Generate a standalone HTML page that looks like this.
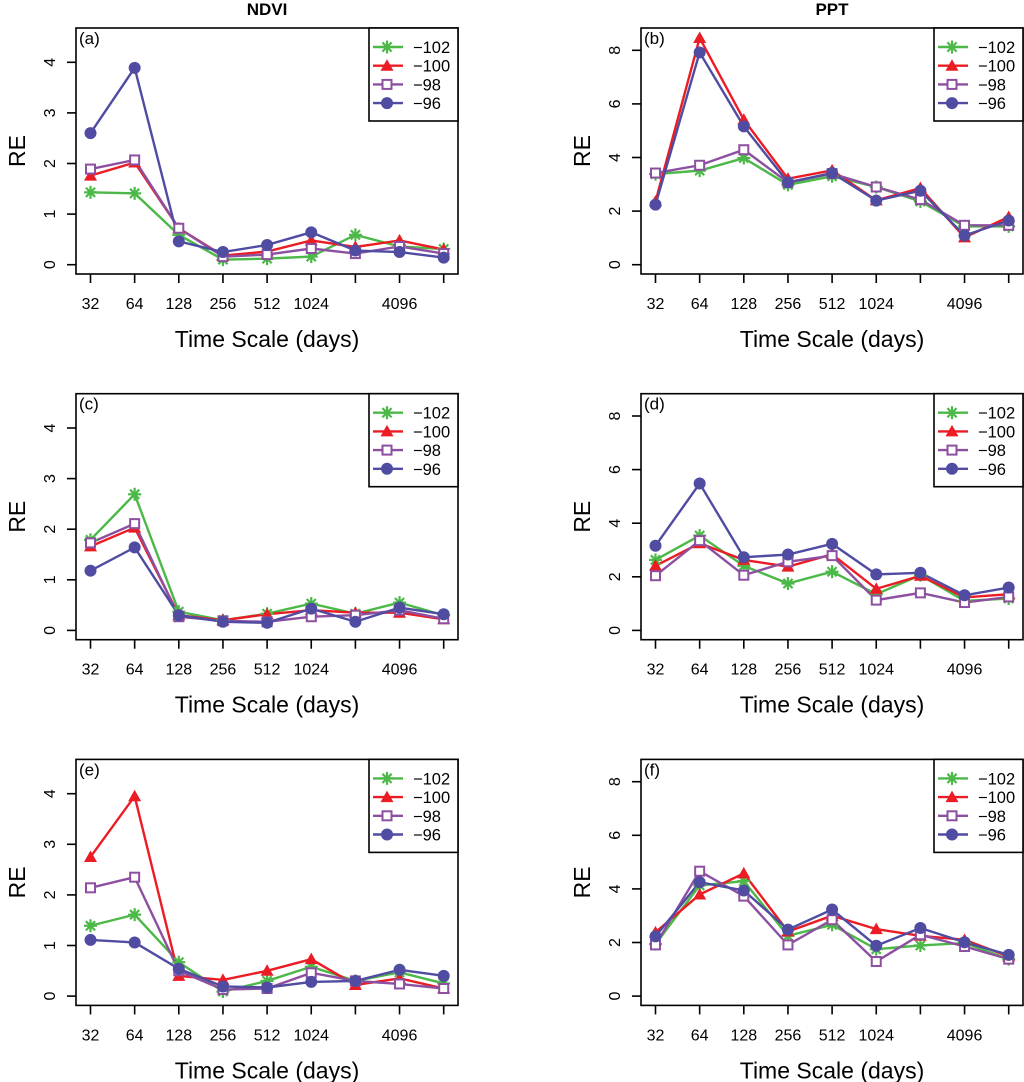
<!DOCTYPE html>
<html><head><meta charset="utf-8"><style>
html,body{margin:0;padding:0;background:#fff;}
svg{display:block;font-family:"Liberation Sans",sans-serif;}
</style></head><body>
<svg id="fig" width="1024" height="1082" viewBox="0 0 1024 1082"></svg>
<script>
const xLabels = ["32","64","128","256","512","1024","","4096",""];
const seriesNames = ["\u2212102","\u2212100","\u221298","\u221296"];
const ndviTicks = [0,1,2,3,4];
const pptTicks = [0,2,4,6,8];
// panel (a) NDVI
const aGreen = [1.43,1.41,0.59,0.10,0.12,0.16,0.59,0.36,0.31];
const aRed = [1.76,2.02,0.72,0.18,0.26,0.48,0.35,0.48,0.30];
const aPurple = [1.89,2.07,0.72,0.16,0.20,0.32,0.22,0.36,0.22];
const aBlue = [2.60,3.89,0.46,0.25,0.39,0.64,0.28,0.25,0.14];
// panel (b) PPT
const bGreen = [3.38,3.51,3.98,2.98,3.30,2.90,2.36,1.43,1.43];
const bRed = [2.36,8.46,5.41,3.21,3.52,2.40,2.86,1.02,1.78];
const bPurple = [3.42,3.71,4.29,3.07,3.40,2.90,2.43,1.47,1.47];
const bBlue = [2.24,7.92,5.16,3.07,3.42,2.39,2.76,1.09,1.65];
// panel (c) NDVI
const cGreen = [1.79,2.69,0.37,0.20,0.33,0.53,0.33,0.55,0.30];
const cRed = [1.66,2.03,0.30,0.20,0.32,0.40,0.35,0.35,0.22];
const cPurple = [1.73,2.11,0.27,0.19,0.17,0.27,0.30,0.40,0.23];
const cBlue = [1.18,1.64,0.30,0.17,0.15,0.43,0.17,0.45,0.32];
// panel (d) PPT
const dGreen = [2.63,3.54,2.41,1.75,2.19,1.35,2.06,1.10,1.19];
const dRed = [2.41,3.25,2.63,2.38,2.84,1.55,2.04,1.23,1.35];
const dPurple = [2.04,3.35,2.06,2.56,2.79,1.13,1.40,1.04,1.25];
const dBlue = [3.16,5.48,2.73,2.83,3.23,2.09,2.15,1.31,1.60];
// panel (e) NDVI
const eGreen = [1.39,1.61,0.67,0.09,0.30,0.58,0.30,0.47,0.25];
const eRed = [2.75,3.95,0.40,0.32,0.50,0.73,0.22,0.35,0.15];
const ePurple = [2.14,2.35,0.50,0.13,0.15,0.46,0.30,0.24,0.15];
const eBlue = [1.11,1.06,0.54,0.19,0.17,0.28,0.30,0.52,0.40];
// panel (f) PPT
const fGreen = [1.94,4.13,4.29,2.25,2.66,1.75,1.89,1.98,1.38];
const fRed = [2.38,3.79,4.58,2.41,3.00,2.50,2.25,2.10,1.48];
const fPurple = [1.91,4.66,3.73,1.91,2.85,1.29,2.29,1.85,1.38];
const fBlue = [2.23,4.25,3.94,2.48,3.23,1.88,2.54,2.01,1.54];

const colors = ["#4cb848","#ec1c24","#8d4fa0","#4f4ca2"];
const NS = "http://www.w3.org/2000/svg";
const svg = document.getElementById("fig");
function mk(tag, attrs, parent, txt){
  const e = document.createElementNS(NS, tag);
  for (const k in attrs) e.setAttribute(k, attrs[k]);
  if (txt !== undefined) e.textContent = txt;
  (parent||svg).appendChild(e);
  return e;
}
const panels = [
  {id:"a", col:0, row:0, kind:"ndvi", data:[aGreen,aRed,aPurple,aBlue]},
  {id:"b", col:1, row:0, kind:"ppt", data:[bGreen,bRed,bPurple,bBlue]},
  {id:"c", col:0, row:1, kind:"ndvi", data:[cGreen,cRed,cPurple,cBlue]},
  {id:"d", col:1, row:1, kind:"ppt", data:[dGreen,dRed,dPurple,dBlue]},
  {id:"e", col:0, row:2, kind:"ndvi", data:[eGreen,eRed,ePurple,eBlue]},
  {id:"f", col:1, row:2, kind:"ppt", data:[fGreen,fRed,fPurple,fBlue]}
];
function marker(g, type, x, y, col){
  let m;
  if (type===0){
    m = mk("g",{},g);
    for (let a=0;a<4;a++){
      const ang=a*Math.PI/4, r=6.5;
      mk("line",{x1:x-r*Math.cos(ang),y1:y-r*Math.sin(ang),x2:x+r*Math.cos(ang),y2:y+r*Math.sin(ang),stroke:col,"stroke-width":2.2},m);
    }
  } else if (type===1){
    m = mk("polygon",{points:`${x},${y-6.5} ${x-6.5},${y+5} ${x+6.5},${y+5}`,fill:col},g);
  } else if (type===2){
    m = mk("rect",{x:x-4.5,y:y-4.5,width:9,height:9,fill:"#fff",stroke:col,"stroke-width":2},g);
  } else {
    m = mk("circle",{cx:x,cy:y,r:6,fill:col},g);
  }
  return m;
}
panels.forEach(p=>{
  const ox = p.col ? 565 : 0, oy = p.row*365.7;
  const L=76+ox, R=p.col?1023:458, T=28+oy, B=274+oy;
  const x0=90.5+ox, dx=44.15;
  const y0=264.7+oy, k = p.kind==="ndvi"?50.6:26.8;
  const xs = i => x0 + i*dx;
  const ys = v => y0 - v*k;
  const g = mk("g",{});
  
  
  if (p.row===0){
    const t = mk("text",{x:(L+R)/2,y:15,"text-anchor":"middle","font-size":17,"font-weight":"bold"},g,p.kind==="ndvi"?"NDVI":"PPT");
    
    
  }
  p.data.forEach((arr,si)=>{
    const pts = arr.map((v,i)=>xs(i)+","+ys(v)).join(" ");
    const pl = mk("polyline",{points:pts,fill:"none",stroke:colors[si],"stroke-width":2.4},g);
    
    
  });
  p.data.forEach((arr,si)=>{
    arr.forEach((v,i)=>{
      const m = marker(g, si, xs(i), ys(v), colors[si]);
      
      
    });
  });
  const box = mk("rect",{x:L,y:T,width:R-L,height:B-T,fill:"none",stroke:"#000","stroke-width":1.6},g);
  
  
  xLabels.forEach((lab,i)=>{
    mk("line",{x1:xs(i),y1:B,x2:xs(i),y2:B+9,stroke:"#000","stroke-width":1.6},g);
    if (lab){
      const t = mk("text",{x:xs(i),y:B+35,"text-anchor":"middle","font-size":16},g,lab);
      
      
    }
  });
  const xt = mk("text",{x:(L+R)/2,y:B+73,"text-anchor":"middle","font-size":23},g,"Time Scale (days)");
  
  
  const ticks = p.kind==="ndvi"?ndviTicks:pptTicks;
  ticks.forEach(v=>{
    mk("line",{x1:L,y1:ys(v),x2:L-9,y2:ys(v),stroke:"#000","stroke-width":1.6},g);
    const t = mk("text",{x:L-21,y:ys(v),"text-anchor":"middle","font-size":16,transform:`rotate(-90 ${L-21} ${ys(v)})`},g,String(v));
    
    
  });
  const yt = mk("text",{x:L-57,y:(T+B)/2,"text-anchor":"middle","font-size":23,transform:`rotate(-90 ${L-57} ${(T+B)/2})`,"dominant-baseline":"middle"},g,"RE");
  
  
  const pl = mk("text",{x:L+3,y:T+16,"font-size":17},g,"("+p.id+")");
  
  
  const lg = mk("g",{},g);
  
  
  const lx = R-89;
  mk("rect",{x:lx,y:T,width:89,height:93,fill:"#fff",stroke:"#000","stroke-width":1.6},lg);
  seriesNames.forEach((nm,si)=>{
    const yy = T+19+si*18.7;
    const e = mk("g",{},lg);
    
    
    mk("line",{x1:lx+4,y1:yy,x2:lx+34,y2:yy,stroke:colors[si],"stroke-width":2.4},e);
    marker(e, si, lx+18, yy, colors[si]);
    mk("text",{x:lx+44,y:yy+6,"font-size":16.5},e,nm);
  });
});
</script>
</body></html>
